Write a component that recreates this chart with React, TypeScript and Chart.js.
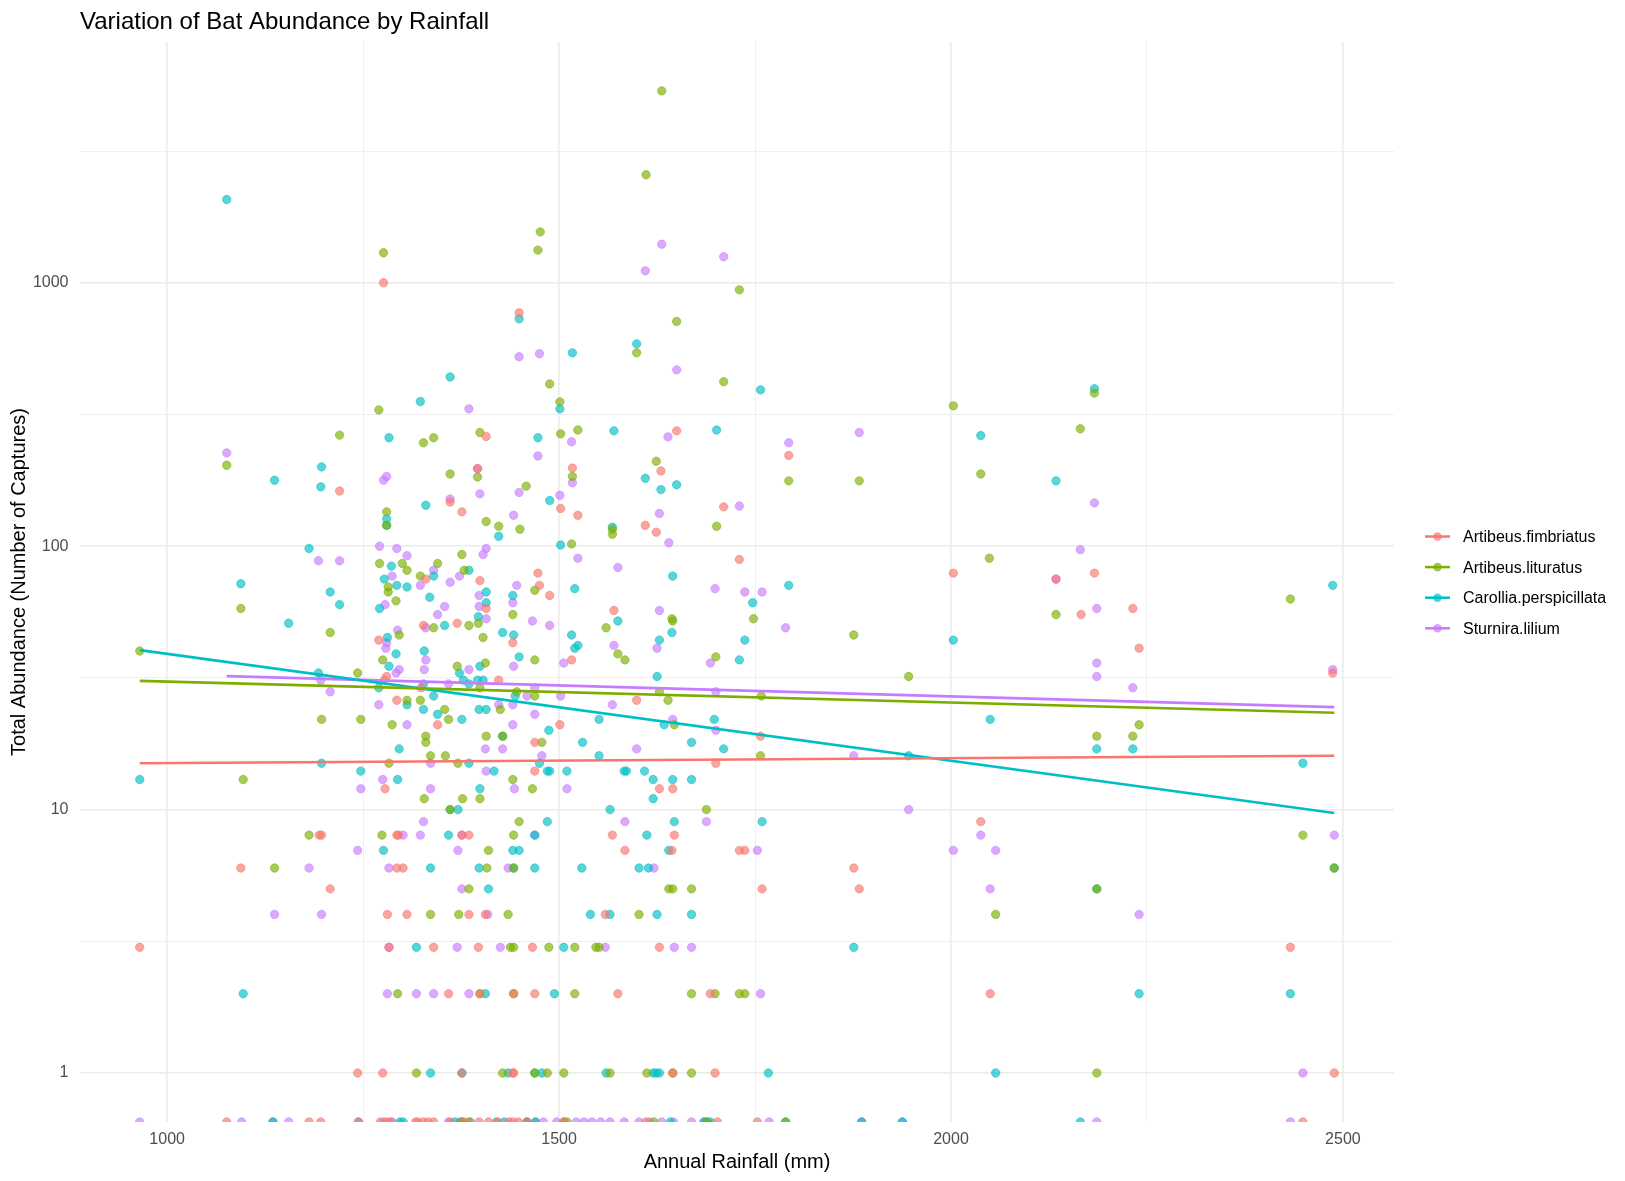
import React, { useEffect, useRef } from "react";
import { Chart, registerables } from "chart.js";

Chart.register(...registerables);

// ---------- labels & styling ----------
const chartTitle = "Variation of Bat Abundance by Rainfall";
const xAxisTitle = "Annual Rainfall (mm)";
const yAxisTitle = "Total Abundance (Number of Captures)";
const speciesNames = ["Artibeus.fimbriatus", "Artibeus.lituratus", "Carollia.perspicillata", "Sturnira.lilium"];
const speciesColors = ["#F8766D", "#7CAE00", "#00BFC4", "#C77CFF"];

// ---------- axis ticks ----------
const xTickValues = [1000, 1250, 1500, 1750, 2000, 2250, 2500];
const xTickLabels = ["1000", "", "1500", "", "2000", "", "2500"];
const yTickValues = [1, 3.1623, 10, 31.623, 100, 316.23, 1000, 3162.3];
const yTickLabels = ["1", "", "10", "", "100", "", "1000", ""];
const xRange = [888.8, 2565.2];
const yRange = [0.6516, 8204];

// ---------- data: [annual rainfall (mm), captures] ----------
const fimbriatusPoints: [number, number][] = [
  [965, 3], [1094, 6], [1220, 162], [1208, 5], [1270, 44], [1276, 1000], [1280, 32], [1277, 31], [1293, 26],
  [1194, 8], [1197, 8], [1293, 8], [1295, 8], [1293, 6], [1301, 6], [1278, 12], [1281, 4], [1306, 4], [1283, 3],
  [1243, 1], [1275, 1],
  [1449, 769], [1407, 261], [1650, 274], [1630, 193], [1396, 197], [1517, 198], [1361, 147], [1376, 135],
  [1502, 139], [1524, 131], [1710, 141], [1610, 120], [1624, 113],
  [1330, 75], [1473, 79], [1475, 71], [1488, 65], [1399, 74], [1407, 58], [1327, 50], [1370, 51], [1441, 43],
  [1730, 89], [1570, 57], [1516, 37], [1423, 31], [1324, 29], [1345, 21], [1501, 21], [1599, 26], [1469, 18],
  [1700, 15], [1469, 14], [1628, 12], [1645, 12],
  [1376, 8], [1385, 8], [1568, 8], [1647, 8], [1584, 7], [1644, 7], [1730, 7], [1385, 4], [1406, 4], [1559, 4],
  [1340, 3], [1397, 3], [1466, 3], [1628, 3], [1359, 2], [1399, 2], [1442, 2], [1469, 2], [1575, 2], [1693, 2],
  [1376, 1], [1441, 1], [1442, 1], [1645, 1], [1699, 1],
  [1793, 221], [2003, 79], [2183, 79], [2134, 75], [2487, 33], [2232, 58], [2166, 55], [2240, 41], [1757, 19],
  [2038, 9], [1737, 7], [1876, 6], [1759, 5], [1883, 5], [2433, 3], [2050, 2], [2489, 1],
];
const fimbriatusZeroSites = [
  1076, 1181, 1196, 1244, 1272, 1280, 1285, 1317, 1320, 1327, 1333, 1340, 1361, 1378, 1398, 1410, 1422,
  1436, 1441, 1448, 1459, 1506, 1611, 1702, 1753, 2449,
];

const lituratusPoints: [number, number][] = [
  [965, 40], [1076, 203], [1094, 58], [1097, 13], [1137, 6], [1181, 8], [1197, 22], [1208, 47], [1220, 264],
  [1243, 33], [1247, 22], [1270, 329], [1271, 86], [1274, 8], [1275, 37], [1276, 1300], [1280, 135], [1280, 120],
  [1282, 70], [1282, 67], [1283, 15], [1287, 21], [1292, 62], [1294, 2], [1296, 46], [1300, 86], [1306, 81],
  [1306, 26], [1318, 1], [1323, 77], [1323, 26],
  [1473, 1330], [1476, 1560], [1730, 940], [1650, 713], [1599, 542], [1488, 413], [1710, 421], [1501, 353],
  [1399, 270], [1327, 247], [1340, 258], [1502, 267], [1524, 276], [1624, 210], [1361, 188], [1396, 183],
  [1517, 184], [1458, 169], [1407, 124], [1423, 119], [1450, 116], [1568, 116], [1568, 111], [1701, 119],
  [1516, 102], [1631, 5350], [1611, 2570],
  [1376, 93], [1345, 86], [1379, 81], [1397, 51], [1340, 49], [1385, 50], [1469, 68], [1441, 55], [1403, 45],
  [1644, 53], [1645, 52], [1560, 49], [1575, 39], [1584, 37], [1700, 38], [1469, 37], [1370, 35], [1406, 36],
  [1399, 29], [1446, 28], [1469, 27], [1425, 24], [1354, 24], [1359, 22], [1639, 26], [1628, 28], [1647, 21],
  [1330, 19], [1330, 18], [1407, 19], [1428, 19], [1478, 18], [1336, 16], [1355, 16], [1371, 15], [1441, 13],
  [1466, 12], [1328, 11], [1377, 11], [1399, 11], [1361, 10], [1688, 10], [1449, 9],
  [1442, 8], [1410, 7], [1408, 6], [1442, 6], [1385, 5], [1640, 5], [1645, 5], [1669, 5], [1336, 4], [1372, 4],
  [1435, 4], [1602, 4], [1438, 3], [1442, 3], [1487, 3], [1520, 3], [1547, 3], [1551, 3], [1399, 2], [1442, 2],
  [1520, 2], [1669, 2], [1699, 2], [1730, 2], [1428, 1], [1469, 1], [1485, 1], [1506, 1], [1565, 1], [1612, 1],
  [1645, 1], [1669, 1],
  [2003, 341], [2183, 381], [2165, 279], [1793, 177], [1883, 177], [2038, 188], [2049, 90], [2433, 63],
  [1748, 53], [1876, 46], [1946, 32], [2134, 55], [1758, 27], [2240, 21], [2186, 19], [2232, 19], [1757, 16],
  [2449, 8], [2489, 6], [2186, 5], [2057, 4], [1737, 2], [2186, 1],
];
const lituratusZeroSites = [1376, 1385, 1506, 1510, 1621, 1689, 1789];

const carolliaPoints: [number, number][] = [
  [965, 13], [1076, 2070], [1094, 72], [1097, 2], [1137, 178], [1155, 51], [1181, 98], [1193, 33], [1196, 168],
  [1197, 200], [1197, 15], [1208, 67], [1220, 60], [1247, 14], [1270, 29], [1271, 58], [1276, 7], [1277, 75],
  [1281, 45], [1283, 258], [1283, 35], [1286, 84], [1280, 127], [1280, 120], [1292, 39], [1293, 71], [1294, 13],
  [1296, 17], [1306, 70], [1306, 25], [1318, 3], [1323, 354],
  [1449, 730], [1599, 586], [1517, 542], [1361, 439], [1501, 332], [1473, 258], [1570, 274], [1701, 276],
  [1610, 181], [1630, 164], [1650, 171], [1488, 149], [1330, 143], [1423, 109], [1568, 118], [1502, 101],
  [1340, 77], [1385, 81], [1335, 64], [1407, 67], [1407, 61], [1397, 54], [1354, 50], [1441, 65], [1428, 47],
  [1442, 46], [1520, 69], [1645, 77], [1575, 52], [1644, 47], [1628, 44], [1516, 46], [1520, 41], [1524, 42],
  [1730, 37], [1625, 32], [1328, 40], [1449, 38], [1373, 33], [1399, 35], [1378, 31], [1385, 30], [1396, 31],
  [1403, 31], [1327, 30], [1444, 27], [1340, 27], [1398, 24], [1407, 24], [1327, 24], [1345, 23], [1376, 22],
  [1551, 22], [1634, 21], [1698, 22], [1487, 20], [1428, 19], [1530, 18], [1669, 18], [1710, 17], [1551, 16],
  [1385, 15], [1475, 15], [1417, 14], [1485, 14], [1488, 14], [1510, 14], [1583, 14], [1586, 14], [1609, 14],
  [1620, 13], [1645, 13], [1669, 13], [1399, 12], [1620, 11], [1361, 10], [1371, 10], [1565, 10], [1485, 9],
  [1647, 9],
  [1359, 8], [1469, 8], [1612, 8], [1441, 7], [1449, 7], [1640, 7], [1336, 6], [1398, 6], [1442, 6], [1469, 6],
  [1529, 6], [1602, 6], [1614, 6], [1410, 5], [1540, 4], [1565, 4], [1625, 4], [1669, 4], [1506, 3], [1406, 2],
  [1494, 2], [1336, 1], [1376, 1], [1435, 1], [1469, 1], [1478, 1], [1560, 1], [1620, 1], [1624, 1], [1628, 1],
  [1757, 392], [2183, 396], [2038, 263], [2134, 177], [1793, 71], [2487, 71], [1747, 61], [1737, 44],
  [2003, 44], [2050, 22], [2186, 17], [2232, 17], [1946, 16], [2449, 15], [1759, 9], [2489, 6], [2186, 5],
  [1876, 3], [2240, 2], [2433, 2], [1767, 1], [2057, 1],
];
const carolliaZeroSites = [
  1135, 1244, 1297, 1301, 1367, 1376, 1420, 1430, 1459, 1470, 1642, 1685, 1689, 1693, 1789, 1886, 1938, 2165,
];

const sturniraPoints: [number, number][] = [
  [1076, 226], [1137, 4], [1181, 6], [1193, 88], [1196, 31], [1197, 4], [1208, 28], [1220, 88], [1243, 7],
  [1247, 12], [1270, 25], [1271, 100], [1275, 13], [1276, 178], [1278, 60], [1279, 41], [1280, 184], [1280, 43],
  [1281, 2], [1283, 6], [1283, 3], [1287, 77], [1292, 33], [1293, 98], [1294, 48], [1296, 34], [1301, 8],
  [1306, 92], [1306, 21], [1318, 2], [1323, 71], [1323, 8],
  [1631, 1400], [1610, 1110], [1710, 1256],
  [1449, 524], [1475, 538], [1650, 467], [1385, 332], [1516, 249], [1639, 260], [1473, 220], [1396, 197],
  [1517, 174], [1399, 158], [1449, 160], [1501, 156], [1361, 151], [1442, 131], [1730, 142], [1628, 133],
  [1640, 103], [1407, 98],
  [1403, 93], [1340, 81], [1373, 77], [1361, 73], [1398, 65], [1398, 59], [1407, 53], [1354, 59], [1345, 55],
  [1330, 49], [1446, 71], [1441, 61], [1466, 52], [1488, 50], [1524, 90], [1575, 83], [1699, 69], [1628, 57],
  [1625, 41], [1506, 36], [1570, 42], [1693, 36], [1330, 37], [1328, 34], [1442, 35], [1385, 34], [1359, 30],
  [1469, 29], [1459, 27], [1502, 27], [1423, 25], [1441, 25], [1441, 21], [1469, 23], [1568, 25], [1700, 28],
  [1645, 22], [1700, 20], [1406, 17], [1428, 17], [1478, 16], [1599, 17], [1336, 15], [1407, 14], [1336, 12],
  [1443, 12], [1510, 12], [1327, 9], [1584, 9], [1688, 9],
  [1376, 8], [1469, 8], [1371, 7], [1435, 6], [1621, 6], [1376, 5], [1409, 4], [1370, 3], [1425, 3], [1559, 3],
  [1647, 3], [1669, 3], [1340, 2], [1385, 2],
  [1883, 270], [1793, 247], [2183, 146], [2165, 97], [2134, 75], [1737, 67], [1759, 67], [1789, 49], [2186, 58],
  [2186, 36], [2186, 32], [2232, 29], [2487, 34], [1876, 16], [1946, 10], [2038, 8], [2489, 8], [1753, 7],
  [2003, 7], [2057, 7], [2050, 5], [2240, 4], [1757, 2], [2449, 1],
];
const sturniraZeroSites = [
  965, 1095, 1135, 1155, 1276, 1287, 1359, 1373, 1387, 1459, 1470, 1480, 1497, 1522, 1532, 1542, 1553, 1565,
  1583, 1602, 1615, 1631, 1646, 1669, 1685, 1768, 1886, 1938, 2186, 2433,
];

// ---------- linear trend (log10 scale) endpoints ----------
const fimbriatusTrend: [number, number][] = [[965, 15.0], [2489, 16.0]];
const lituratusTrend: [number, number][] = [[965, 30.8], [2489, 23.3]];
const carolliaTrend: [number, number][] = [[965, 40.3], [2489, 9.7]];
const sturniraTrend: [number, number][] = [[1076, 32.1], [2489, 24.5]];

const allPoints = [fimbriatusPoints, lituratusPoints, carolliaPoints, sturniraPoints];
const allZeroSites = [fimbriatusZeroSites, lituratusZeroSites, carolliaZeroSites, sturniraZeroSites];
const allTrends = [fimbriatusTrend, lituratusTrend, carolliaTrend, sturniraTrend];

// ---------- layout ----------
const W = 1625;
const H = 1181;
const AREA = { left: 80, right: 1394, top: 42, bottom: 1122 };
const FONT = "'Liberation Sans', Arial, sans-serif";

function alpha(hex: string, a: number) {
  const n = parseInt(hex.slice(1), 16);
  return `rgba(${(n >> 16) & 255},${(n >> 8) & 255},${n & 255},${a})`;
}

const overlayPlugin = {
  id: "ggOverlay",
  afterDraw(chart: any) {
    const ctx = chart.ctx as CanvasRenderingContext2D;
    const area = chart.chartArea;
    ctx.save();
    // title
    ctx.fillStyle = "#000000";
    ctx.font = `24px ${FONT}`;
    ctx.textAlign = "left";
    ctx.textBaseline = "alphabetic";
    ctx.fillText(chartTitle, area.left, 29);
    // x title
    ctx.font = `20px ${FONT}`;
    ctx.textAlign = "center";
    ctx.fillText(xAxisTitle, (area.left + area.right) / 2, 1168);
    // y title
    ctx.save();
    ctx.translate(19, (area.top + area.bottom) / 2);
    ctx.rotate(-Math.PI / 2);
    ctx.textBaseline = "middle";
    ctx.fillText(yAxisTitle, 0, 0);
    ctx.restore();
    // legend
    const y0 = 536.5;
    const step = 30.6;
    speciesNames.forEach((name, i) => {
      const y = y0 + i * step;
      ctx.strokeStyle = speciesColors[i];
      ctx.lineWidth = 2.5;
      ctx.beginPath();
      ctx.moveTo(1425, y);
      ctx.lineTo(1450, y);
      ctx.stroke();
      ctx.fillStyle = alpha(speciesColors[i], 0.7);
      ctx.beginPath();
      ctx.arc(1437.5, y, 4.3, 0, Math.PI * 2);
      ctx.fill();
      ctx.fillStyle = "#000000";
      ctx.font = `16px ${FONT}`;
      ctx.textAlign = "left";
      ctx.textBaseline = "middle";
      ctx.fillText(name, 1463, y + 1);
    });
    ctx.restore();
  },
};

function isPow10(v: number) {
  const l = Math.log10(v);
  return Math.abs(l - Math.round(l)) < 1e-6;
}

export default function App() {
  const canvasRef = useRef<HTMLCanvasElement | null>(null);

  useEffect(() => {
    if (!canvasRef.current) return;
    const pointSets = allPoints.map((pts, i) => ({
      type: "scatter" as const,
      label: speciesNames[i],
      data: [
        ...pts.map(([x, y]) => ({ x, y })),
        ...allZeroSites[i].map((x) => ({ x, y: yRange[0] })),
      ],
      backgroundColor: alpha(speciesColors[i], 0.65),
      borderColor: alpha(speciesColors[i], 0.55),
      borderWidth: 1,
      pointRadius: 4.2,
      order: 1,
      clip: 0,
    }));
    const trendSets = allTrends.map((tr, i) => ({
      type: "line" as const,
      label: speciesNames[i] + " trend",
      data: tr.map(([x, y]) => ({ x, y })),
      borderColor: speciesColors[i],
      borderWidth: 2.6,
      pointRadius: 0,
      fill: false,
      tension: 0,
      order: 0,
      clip: 0,
    }));

    const chart = new Chart(canvasRef.current, {
      type: "scatter",
      data: { datasets: [...trendSets, ...pointSets] as any },
      options: {
        responsive: false,
        animation: false,
        devicePixelRatio: 1,
        layout: { padding: { left: 0, right: W - AREA.right, top: AREA.top, bottom: 0 } },
        plugins: { legend: { display: false }, tooltip: { enabled: false }, title: { display: false } },
        scales: {
          x: {
            type: "linear",
            position: "bottom",
            min: xRange[0],
            max: xRange[1],
            afterBuildTicks: (s: any) => {
              s.ticks = xTickValues.map((v) => ({ value: v }));
            },
            afterFit: (s: any) => {
              s.height = H - AREA.bottom;
            },
            border: { display: false },
            grid: {
              color: "#EBEBEB",
              drawTicks: false,
              lineWidth: (c: any) => (c.tick && c.tick.value % 500 === 0 ? 1.6 : 0.8),
            },
            ticks: {
              autoSkip: false,
              maxRotation: 0,
              padding: 8,
              color: "#4D4D4D",
              font: { size: 16, family: FONT },
              callback: (_v: any, i: number) => xTickLabels[i],
            },
          },
          y: {
            type: "logarithmic",
            min: yRange[0],
            max: yRange[1],
            afterBuildTicks: (s: any) => {
              s.ticks = yTickValues.map((v) => ({ value: v }));
            },
            afterFit: (s: any) => {
              s.width = AREA.left;
            },
            border: { display: false },
            grid: {
              color: "#EBEBEB",
              drawTicks: false,
              lineWidth: (c: any) => (c.tick && isPow10(c.tick.value) ? 1.6 : 0.8),
            },
            ticks: {
              autoSkip: false,
              padding: 11.5,
              color: "#4D4D4D",
              font: { size: 16, family: FONT },
              callback: (_v: any, i: number) => yTickLabels[i],
            },
          },
        },
      } as any,
      plugins: [overlayPlugin],
    });
    return () => chart.destroy();
  }, []);

  return (
    <div style={{ position: "fixed", left: 0, top: 0, width: W, height: H, background: "#ffffff" }}>
      <canvas ref={canvasRef} width={W} height={H} style={{ width: W, height: H, display: "block" }} />
    </div>
  );
}
